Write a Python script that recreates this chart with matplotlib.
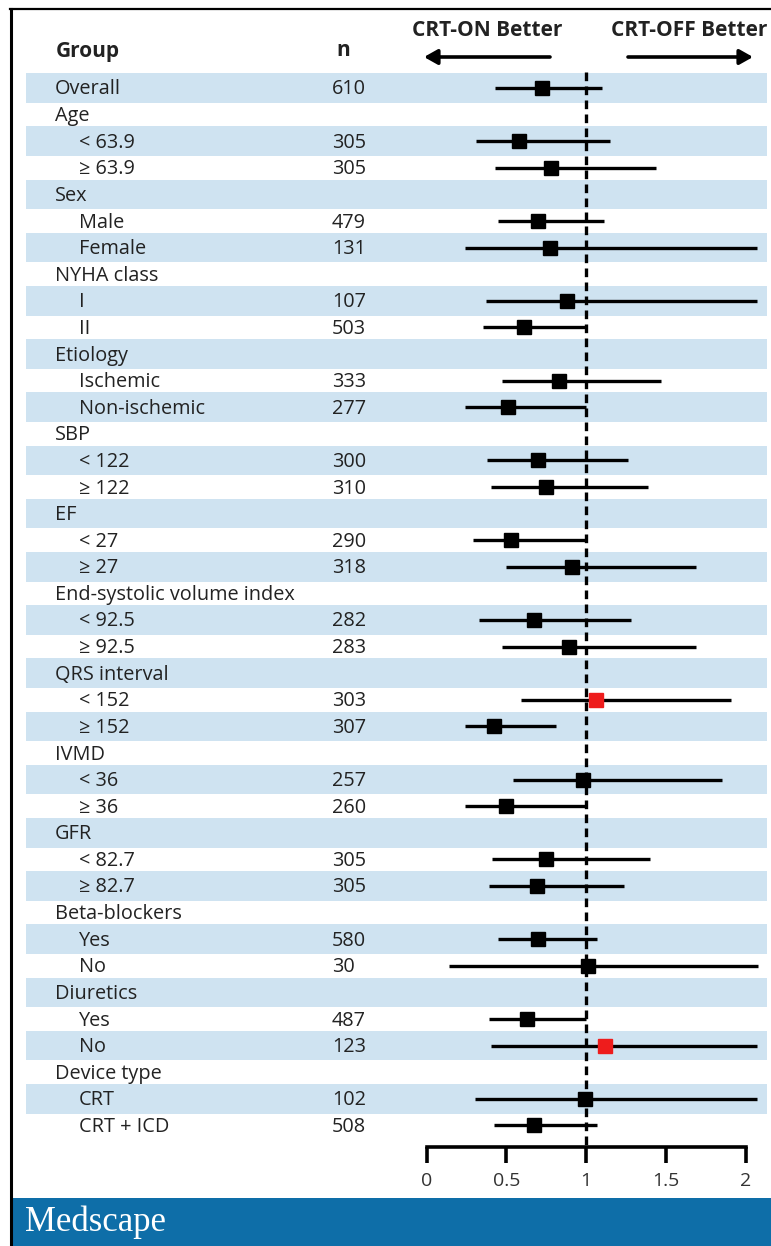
import numpy as np
import matplotlib
matplotlib.use("Agg")
import matplotlib.pyplot as plt
from matplotlib.lines import Line2D
from matplotlib.patches import Rectangle

# ---------------- data ----------------
labels = ["Overall", "Age", "< 63.9", "≥ 63.9", "Sex", "Male", "Female",
          "NYHA class", "I", "II", "Etiology", "Ischemic", "Non-ischemic",
          "SBP", "< 122", "≥ 122", "EF", "< 27", "≥ 27",
          "End-systolic volume index", "< 92.5", "≥ 92.5",
          "QRS interval", "< 152", "≥ 152", "IVMD", "< 36", "≥ 36",
          "GFR", "< 82.7", "≥ 82.7", "Beta-blockers", "Yes", "No",
          "Diuretics", "Yes", "No", "Device type", "CRT", "CRT + ICD"]
is_sub = [False, False, True, True, False, True, True,
          False, True, True, False, True, True,
          False, True, True, False, True, True,
          False, True, True,
          False, True, True, False, True, True,
          False, True, True, False, True, True,
          False, True, True, False, True, True]
n_values = ["610", "", "305", "305", "", "479", "131",
            "", "107", "503", "", "333", "277",
            "", "300", "310", "", "290", "318",
            "", "282", "283",
            "", "303", "307", "", "257", "260",
            "", "305", "305", "", "580", "30",
            "", "487", "123", "", "102", "508"]
nan = np.nan
hr = [0.72, nan, 0.58, 0.78, nan, 0.70, 0.77,
      nan, 0.88, 0.61, nan, 0.83, 0.51,
      nan, 0.70, 0.75, nan, 0.53, 0.91,
      nan, 0.67, 0.89,
      nan, 1.06, 0.42, nan, 0.98, 0.50,
      nan, 0.75, 0.69, nan, 0.70, 1.01,
      nan, 0.63, 1.12, nan, 0.99, 0.67]
ci_low = [0.43, nan, 0.31, 0.43, nan, 0.45, 0.24,
          nan, 0.37, 0.35, nan, 0.47, 0.24,
          nan, 0.38, 0.40, nan, 0.29, 0.50,
          nan, 0.33, 0.47,
          nan, 0.59, 0.24, nan, 0.54, 0.24,
          nan, 0.41, 0.39, nan, 0.45, 0.14,
          nan, 0.39, 0.40, nan, 0.30, 0.42]
ci_high = [1.10, nan, 1.15, 1.44, nan, 1.11, 2.07,
           nan, 2.07, 1.00, nan, 1.47, 1.00,
           nan, 1.26, 1.39, nan, 0.99, 1.69,
           nan, 1.28, 1.69,
           nan, 1.91, 0.81, nan, 1.85, 1.00,
           nan, 1.40, 1.24, nan, 1.07, 2.08,
           nan, 1.00, 2.07, nan, 2.07, 1.07]
highlight = [False] * 40
highlight[23] = True   # QRS < 152
highlight[36] = True   # Diuretics No
x_ticks = [0, 0.5, 1, 1.5, 2]
x_tick_labels = ["0", "0.5", "1", "1.5", "2"]

# ---------------- style ----------------
plt.rcParams['font.family'] = ['Open Sans', 'DejaVu Sans']
TXT = "#222222"
BAND = "#cfe3f1"
RED = "#ee1c1c"
W, H = 771, 1246
FS = 14.3
FSB = 15

fig = plt.figure(figsize=(W / 100, H / 100), dpi=100)
ax = fig.add_axes([0, 0, 1, 1])
ax.set_axis_off()

# pixel mapping: x=0 -> 426.7 px, 1 unit = 159.5 px ; row i -> 88 + 26.6*i px
x0px, xs = 426.7, 159.5
y0px, ys = 88.0, 26.6
ax.set_xlim((0 - x0px) / xs, (W - x0px) / xs)
ax.set_ylim((H - y0px) / ys, (0 - y0px) / ys)

def row(py):
    return (py - y0px) / ys

def fx(px):
    return px / W

yt = ax.get_yaxis_transform()
rows = np.arange(len(labels))
TOFF = 1.5 / ys  # small downward nudge of text inside rows

# bands
for i in rows:
    if i % 2 == 0:
        ax.axhspan(i - 0.56, i + 0.56, xmin=fx(26), xmax=fx(767),
                   color=BAND, lw=0, zorder=0)

# labels and n
for i, (lab, sub, nv) in enumerate(zip(labels, is_sub, n_values)):
    ax.text(fx(79 if sub else 55), i + TOFF, lab, transform=yt, ha='left',
            va='center', fontsize=FS, color=TXT)
    if nv:
        ax.text(fx(332), i + TOFF, nv, transform=yt, ha='left', va='center',
                fontsize=FS, color=TXT)

# headers
ax.text(fx(56), row(51), "Group", transform=yt, ha='left', va='center',
        fontsize=FSB, fontweight='bold', color=TXT)
ax.text(fx(343), row(51), "n", transform=yt, ha='center', va='center',
        fontsize=FSB, fontweight='bold', color=TXT)
ax.text(fx(487), row(31), "CRT-ON Better", transform=yt, ha='center',
        va='center', fontsize=FSB, fontweight='bold', color=TXT)
ax.text(fx(611), row(31), "CRT-OFF Better", transform=yt, ha='left',
        va='center', fontsize=FSB, fontweight='bold', color=TXT)

arrow_kw = dict(arrowstyle='-|>,head_length=0.8,head_width=0.45',
                lw=2.6, color='black', shrinkA=0, shrinkB=0)
ax.annotate("", xy=((424 - x0px) / xs, row(57)),
            xytext=((550 - x0px) / xs, row(57)), arrowprops=arrow_kw)
ax.annotate("", xy=((753 - x0px) / xs, row(57)),
            xytext=((628 - x0px) / xs, row(57)), arrowprops=arrow_kw)

# reference dashed line at 1
axis_row = row(1147)
ax.plot([1, 1], [row(72), axis_row], color='black', lw=2.4,
        dashes=(2.6, 1.6), zorder=2)

# CIs and points
hr_a = np.array(hr)
lo_a = np.array(ci_low)
hi_a = np.array(ci_high)
ok = ~np.isnan(hr_a)
ax.hlines(rows[ok], lo_a[ok], hi_a[ok], color='black', lw=2.4, zorder=3)
cols = [RED if h else 'black' for h in highlight]
for i in rows[ok]:
    ax.plot(hr_a[i], i, marker='s', ms=10, color=cols[i],
            mec=cols[i], zorder=4)

# x axis
ax.plot([x_ticks[0], x_ticks[-1]], [axis_row, axis_row], color='black',
        lw=2.6, solid_capstyle='projecting', zorder=3)
ax.vlines(x_ticks, axis_row, row(1163), color='black', lw=2.6, zorder=3)
for t, tl in zip(x_ticks, x_tick_labels):
    ax.text(t, row(1181), tl, ha='center', va='center', fontsize=14,
            color="#333333")

# frame lines
fig.add_artist(Line2D([fx(11), fx(11)], [0, 1 - 9 / H], color='black',
                      lw=2.2, transform=fig.transFigure))
fig.add_artist(Line2D([fx(10), 1], [1 - 9 / H, 1 - 9 / H], color='black',
                      lw=1.6, transform=fig.transFigure))

# footer banner
fig.add_artist(Rectangle((fx(12), 0), 1, (H - 1198) / H,
                         transform=fig.transFigure, color="#0e6ea8", lw=0))
fig.text(fx(25), 1 - 1222 / H, "Medscape", ha='left', va='center',
         fontsize=25, color='white', family='Liberation Serif')

fig.savefig("out.png", dpi=100)
